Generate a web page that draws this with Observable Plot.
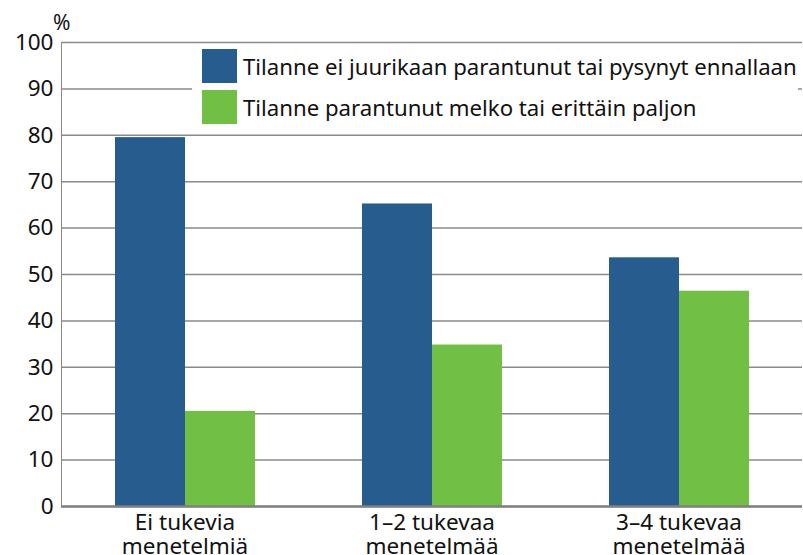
<!DOCTYPE html>
<html><head><meta charset="utf-8">
<script src="https://cdn.jsdelivr.net/npm/d3@7"></script>
<script src="https://cdn.jsdelivr.net/npm/@observablehq/plot@0.6"></script>
<style>
body{margin:0;background:#fff;}
#wrap{position:relative;width:803px;height:555px;overflow:hidden;font-family:"Noto Sans",sans-serif;color:#111;}
#wrap svg text{fill:#111;}
#pct{position:absolute;left:53px;top:12px;font-size:21px;line-height:1;}
#legend{position:absolute;left:192px;top:44px;width:606px;height:85px;background:#fff;}
.item{position:absolute;left:10px;height:34px;display:flex;align-items:center;font-size:22.2px;white-space:nowrap;}
.sw{width:35px;height:34px;margin-right:6px;flex:none;}
</style>
</head><body><div id="wrap"></div>
<script>
const categories = ["Ei tukevia\nmenetelmiä", "1–2 tukevaa\nmenetelmää", "3–4 tukevaa\nmenetelmää"];
const seriesNames = ["Tilanne ei juurikaan parantunut tai pysynyt ennallaan", "Tilanne parantunut melko tai erittäin paljon"];
const notImproved = [79.5, 65.2, 53.6];
const improved = [20.5, 34.8, 46.4];
const colors = ["#275d8e", "#72bf46"];
const yTicks = [0, 10, 20, 30, 40, 50, 60, 70, 80, 90, 100];
const unitLabel = "%";

const data = [];
categories.forEach((c, i) => {
  data.push({cat: c, series: seriesNames[0], value: notImproved[i]});
  data.push({cat: c, series: seriesNames[1], value: improved[i]});
});

const chart = Plot.plot({
  width: 803, height: 555,
  marginLeft: 60, marginRight: 0, marginTop: 42, marginBottom: 49,
  style: {fontFamily: '"Noto Sans", sans-serif', fontSize: "22.5px", color: "#8a8a8a", background: "#fff"},
  fx: {domain: categories, padding: 0, label: null, axis: null},
  x: {domain: seriesNames, paddingInner: 0, paddingOuter: 0.74, axis: null},
  y: {domain: [0, 100], ticks: yTicks, label: null, tickSize: 0, tickPadding: 8, line: true},
  color: {domain: seriesNames, range: colors},
  marks: [
    Plot.gridY(yTicks, {stroke: "#8a8a8a", strokeOpacity: 1, strokeWidth: 1.5}),
    Plot.barY(data, {fx: "cat", x: "series", y: "value", fill: "series"}),
    Plot.ruleY([0], {stroke: "#808080", strokeWidth: 2.5}),
    Plot.axisFx({anchor: "bottom", tickSize: 0, tickPadding: 7, label: null, fontSize: 22.5, lineHeight: 1.05, fill: "#111"})
  ]
});

const wrap = document.getElementById("wrap");
wrap.appendChild(chart);
const pct = document.createElement("div");
pct.id = "pct"; pct.textContent = unitLabel;
wrap.appendChild(pct);
const legend = document.createElement("div");
legend.id = "legend";
seriesNames.forEach((s, i) => {
  const item = document.createElement("div");
  item.className = "item";
  item.style.top = (5 + i * 41) + "px";
  const sw = document.createElement("div");
  sw.className = "sw"; sw.style.background = colors[i];
  const t = document.createElement("span");
  t.textContent = s;
  item.appendChild(sw); item.appendChild(t);
  legend.appendChild(item);
});
wrap.appendChild(legend);
</script>
</body></html>
